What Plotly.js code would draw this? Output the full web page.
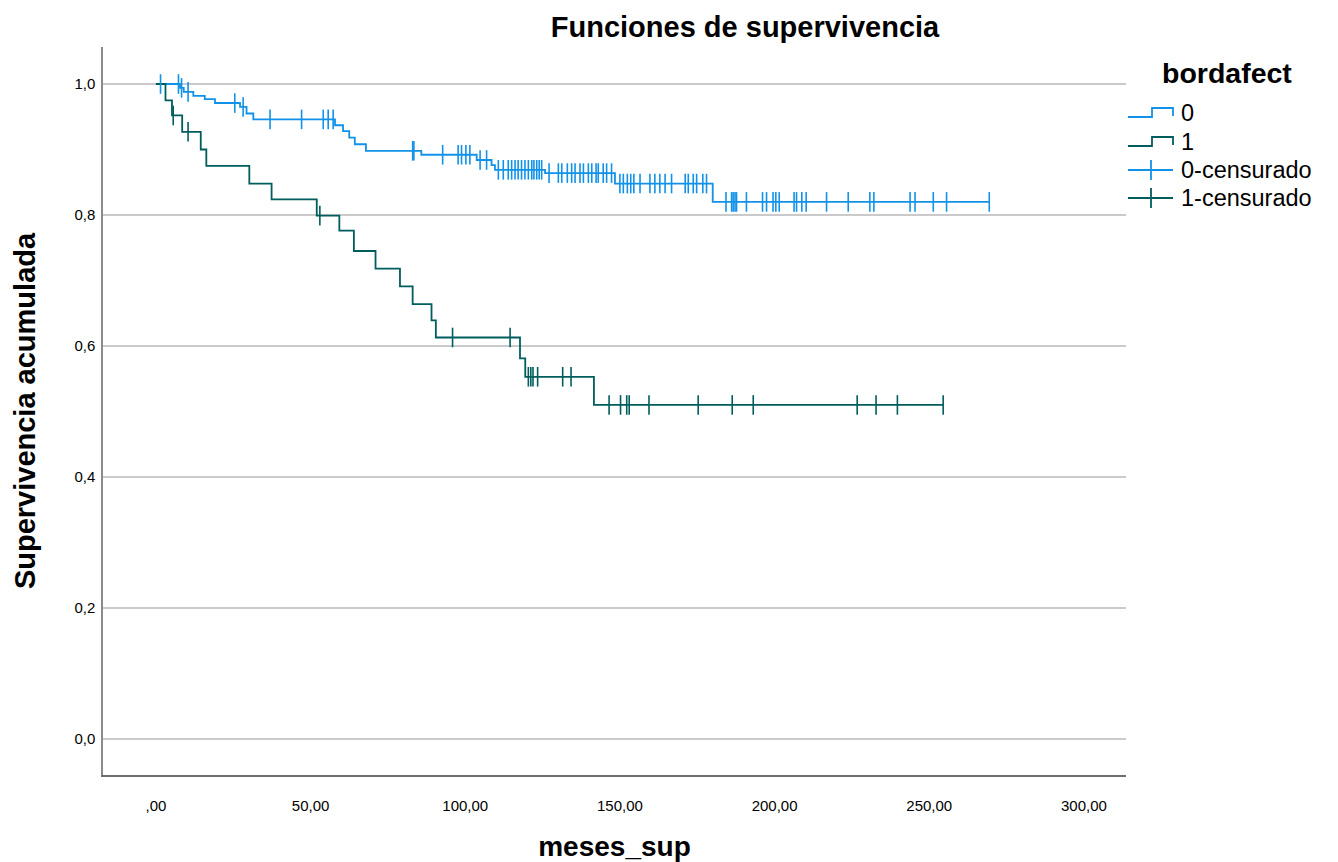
<!DOCTYPE html>
<html>
<head>
<meta charset="utf-8">
<script src="https://cdn.plot.ly/plotly-3.0.1.min.js"></script>
<style>html,body{margin:0;padding:0;background:#fff;}#chart{width:1338px;height:862px;}</style>
</head>
<body>
<div id="chart"></div>
<script>
// ---- data ----
const xTickVals = [0, 50, 100, 150, 200, 250, 300];
const xTickText = [",00", "50,00", "100,00", "150,00", "200,00", "250,00", "300,00"];
const yTickVals = [0, 0.2, 0.4, 0.6, 0.8, 1.0];
const yTickText = ["0,0", "0,2", "0,4", "0,6", "0,8", "1,0"];

const groupNames = ["0", "1", "0-censurado", "1-censurado"];

// group 0 (bordafect = 0): event times and survival after each event
const blueTimes = [7.8, 9.0, 12.1, 15.8, 19.1, 27.2, 29.3, 31.5, 57.9, 60.5, 62.5, 64.3, 67.9, 85.8, 103.7, 108.5, 109.6, 125.8, 148.4, 180.0];
const blueSurv  = [0.994, 0.988, 0.982, 0.977, 0.971, 0.965, 0.955, 0.946, 0.937, 0.928, 0.918, 0.908, 0.898, 0.892, 0.884, 0.876, 0.869, 0.864, 0.848, 0.820];
const blueCens  = [1.5, 7.3, 8.3, 10.4, 25.5, 28.2, 36.9, 47.1, 54.1, 55.7, 57.3, 83.0, 83.4, 92.7, 97.7, 98.8, 100.2, 101.5, 104.8, 106.9,
  110.7, 112.3, 113.9, 115.0, 116.1, 117.1, 118.2, 119.3, 120.4, 121.5, 122.2, 123.1, 123.9, 124.7,
  127.1, 130.1, 131.2, 133.0, 134.4, 135.5, 137.1, 138.2, 139.8, 140.9, 142.3, 143.0, 144.6, 145.7, 147.3,
  150.0, 151.1, 152.4, 153.5, 154.5, 156.5, 159.7, 161.3, 162.9, 164.6, 166.7, 171.1, 172.1, 173.7, 174.8, 176.8, 178.0,
  184.3, 186.1, 186.6, 187.2, 187.7, 190.9, 196.1, 197.4, 199.5, 200.4, 201.5, 206.3, 207.1, 208.8, 210.2,
  216.8, 223.8, 230.8, 232.1, 243.8, 245.4, 251.3, 255.6, 269.4];

// group 1 (bordafect = 1)
const greenTimes = [3.1, 5.2, 8.5, 14.5, 16.3, 30.2, 37.4, 52.0, 59.3, 64.0, 71.0, 78.9, 83.0, 89.1, 90.5, 117.7, 119.4, 141.6];
const greenSurv  = [0.975, 0.952, 0.927, 0.900, 0.875, 0.848, 0.824, 0.799, 0.776, 0.745, 0.718, 0.691, 0.664, 0.639, 0.613, 0.581, 0.553, 0.510];
const greenCens  = [5.6, 10.4, 53.0, 95.9, 114.5, 120.4, 121.2, 121.9, 123.4, 131.5, 134.2, 146.5, 150.2, 152.2, 153.0, 159.4,
  175.3, 186.3, 193.1, 226.7, 232.8, 239.7, 254.5];

// ---- styling ----
const BLUE = "#1192e8";
const GREEN = "#005d5d";
const FONT = "Liberation Sans, Arial, Helvetica, sans-serif";

function survAt(times, surv, t) {
  let s = 1;
  for (let i = 0; i < times.length; i++) { if (times[i] <= t) s = surv[i]; }
  return s;
}
function stepTrace(times, surv, cens, color, name) {
  const last = Math.max(cens[cens.length - 1], times[times.length - 1]);
  return {
    type: "scatter", mode: "lines", name: name, showlegend: false,
    x: [0].concat(times, [last]),
    y: [1].concat(surv, [surv[surv.length - 1]]),
    line: {shape: "hv", color: color, width: 1.8},
    hoverinfo: "x+y"
  };
}
function censTrace(times, surv, cens, color, name) {
  return {
    type: "scatter", mode: "markers", name: name, showlegend: false,
    x: cens, y: cens.map(t => survAt(times, surv, t)),
    marker: {symbol: "line-ns-open", size: 14, color: color, line: {color: color, width: 1.6}},
    hoverinfo: "x+y"
  };
}

const traces = [
  stepTrace(blueTimes, blueSurv, blueCens, BLUE, groupNames[0]),
  stepTrace(greenTimes, greenSurv, greenCens, GREEN, groupNames[1]),
  censTrace(blueTimes, blueSurv, blueCens, BLUE, groupNames[2]),
  censTrace(greenTimes, greenSurv, greenCens, GREEN, groupNames[3])
];

// plot area pixels: left 103, right 1126, top 47, bottom 775
const L = 103, R = 1126, T = 47, B = 775;
const PX = p => (p - L) / (R - L);
const PY = p => (B - p) / (B - T);

// custom legend (step glyphs and censor glyphs)
const legendItems = [
  {label: groupNames[0], color: BLUE, kind: "step", y: 113},
  {label: groupNames[1], color: GREEN, kind: "step", y: 142},
  {label: groupNames[2], color: BLUE, kind: "cens", y: 170},
  {label: groupNames[3], color: GREEN, kind: "cens", y: 198}
];
const shapes = [];
const annotations = [{
  text: "<b>bordafect</b>", xref: "paper", yref: "paper", x: PX(1160), y: PY(73),
  xanchor: "left", yanchor: "middle", showarrow: false, font: {family: FONT, size: 28.5, color: "#000"}
}];
legendItems.forEach(it => {
  if (it.kind === "step") {
    const lo = it.y + 4, hi = it.y - 5;
    shapes.push({type: "path", xref: "paper", yref: "paper",
      path: `M ${PX(1128)} ${PY(lo)} L ${PX(1152)} ${PY(lo)} L ${PX(1152)} ${PY(hi)} L ${PX(1173)} ${PY(hi)} L ${PX(1173)} ${PY(lo - 1)}`,
      line: {color: it.color, width: 1.8}});
  } else {
    shapes.push({type: "line", xref: "paper", yref: "paper", x0: PX(1128), x1: PX(1173), y0: PY(it.y), y1: PY(it.y),
      line: {color: it.color, width: 1.8}});
    shapes.push({type: "line", xref: "paper", yref: "paper", x0: PX(1151), x1: PX(1151), y0: PY(it.y - 10), y1: PY(it.y + 10),
      line: {color: it.color, width: 1.8}});
  }
  annotations.push({text: it.label, xref: "paper", yref: "paper", x: PX(1179), y: PY(it.y),
    xanchor: "left", yanchor: "middle", showarrow: false, font: {family: FONT, size: 23.5, color: "#000"}});
});

const layout = {
  width: 1338, height: 862,
  margin: {l: L, r: 1338 - R, t: T, b: 862 - B, pad: 0},
  paper_bgcolor: "#ffffff", plot_bgcolor: "#ffffff",
  font: {family: FONT, color: "#000"},
  showlegend: false,
  title: {text: "<b>Funciones de supervivencia</b>", font: {family: FONT, size: 29, color: "#000"},
    xref: "container", yref: "container", x: 745 / 1338, y: 1 - 27 / 862, xanchor: "center", yanchor: "middle"},
  xaxis: {
    range: [-17.1, 313.6], tickvals: xTickVals, ticktext: xTickText,
    showgrid: false, zeroline: false, showline: true, linecolor: "#6e6e6e", linewidth: 2,
    ticks: "outside", ticklen: 16, tickcolor: "rgba(0,0,0,0)",
    tickfont: {family: FONT, size: 15, color: "#000"},
    title: {text: "<b>meses_sup</b>", font: {family: FONT, size: 28, color: "#000"}, standoff: 24}
  },
  yaxis: {
    range: [-0.055, 1.0565], tickvals: yTickVals, ticktext: yTickText,
    showgrid: true, gridcolor: "#cacaca", gridwidth: 2, zeroline: false,
    showline: true, linecolor: "#8a8a8a", linewidth: 1.5,
    ticks: "outside", ticklen: 3, tickcolor: "rgba(0,0,0,0)",
    tickfont: {family: FONT, size: 15, color: "#000"},
    title: {text: "<b>Supervivencia acumulada</b>", font: {family: FONT, size: 29, color: "#000"}, standoff: 30}
  },
  shapes: shapes,
  annotations: annotations
};

Plotly.newPlot("chart", traces, layout, {displayModeBar: false, responsive: false});
</script>
</body>
</html>
